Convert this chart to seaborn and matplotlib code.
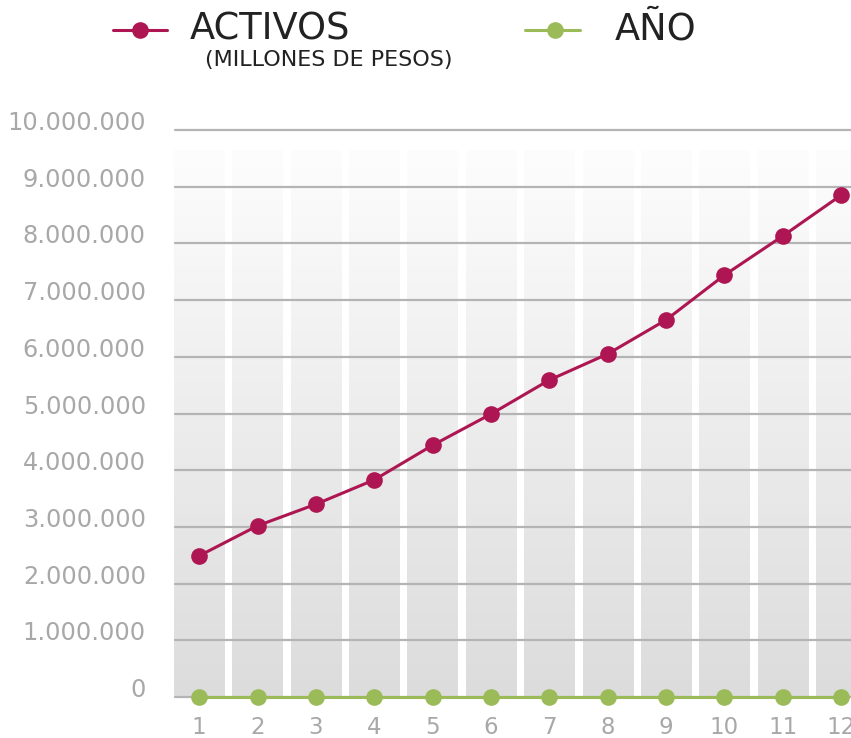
import numpy as np
import pandas as pd
import matplotlib
matplotlib.use("Agg")
import matplotlib.pyplot as plt
from matplotlib.lines import Line2D
import seaborn as sns

# Data
years = [1, 2, 3, 4, 5, 6, 7, 8, 9, 10, 11, 12]
activos = [2490000, 3020000, 3400000, 3830000, 4440000, 4990000,
           5590000, 6050000, 6650000, 7440000, 8130000, 8850000]
anio = [0, 0, 0, 0, 0, 0, 0, 0, 0, 0, 0, 0]
y_ticks = [0, 1000000, 2000000, 3000000, 4000000, 5000000,
           6000000, 7000000, 8000000, 9000000, 10000000]
y_tick_labels = ["0", "1.000.000", "2.000.000", "3.000.000", "4.000.000",
                 "5.000.000", "6.000.000", "7.000.000", "8.000.000",
                 "9.000.000", "10.000.000"]
legend_labels = ["ACTIVOS", "AÑO"]
legend_sub = "(MILLONES DE PESOS)"

RED = "#ad1652"
GREEN = "#9bbb59"
GRAY_TXT = "#a8a8a8"

sns.set_theme(style="white")
plt.rcParams["font.family"] = ["DejaVu Sans"]

fig = plt.figure(figsize=(8.51, 7.38), dpi=100)
ax = fig.add_axes([175/851, (738-697)/738, 1 - 175/851, (697-130)/738])

# Background gradient columns
col_top = 9650000
bars = ax.bar(years, [col_top]*len(years), width=0.86, color="none",
              edgecolor="none", zorder=0.5)
grad = np.linspace(1.0, 0.0, 256).reshape(-1, 1)
cmap = matplotlib.colors.LinearSegmentedColormap.from_list(
    "g", ["#dcdcdc", "#fdfdfd"])
for b in bars:
    im = ax.imshow(grad, cmap=cmap, vmin=0, vmax=1, aspect="auto",
                   extent=(b.get_x(), b.get_x() + b.get_width(), 0, col_top),
                   origin="upper", zorder=0.5, interpolation="bilinear")
    im.set_clip_path(b)

df = pd.DataFrame({"x": years * 2,
                   "y": activos + anio,
                   "serie": [legend_labels[0]] * len(years) + [legend_labels[1]] * len(years)})
sns.lineplot(data=df, x="x", y="y", hue="serie",
             palette={legend_labels[0]: RED, legend_labels[1]: GREEN},
             marker="o", markersize=12, markeredgewidth=0, linewidth=2.2,
             legend=False, ax=ax, zorder=4, clip_on=False)

ax.set_xlim(0.586, 12.17)
ax.set_ylim(0, 10000000)
ax.set_yticks(y_ticks)
ax.set_yticklabels(y_tick_labels)
ax.set_xticks(years)
ax.set_xticklabels([str(y) for y in years])
ax.set_xlabel("")
ax.set_ylabel("")
for s in ax.spines.values():
    s.set_visible(False)
ax.set_axisbelow(False)
ax.yaxis.grid(True, color="#b4b4b4", linewidth=1.6, zorder=1)
ax.xaxis.grid(False)
for gl in ax.get_ygridlines():
    gl.set_clip_on(False)
ax.tick_params(axis="y", length=0, pad=21, labelsize=17.3, labelcolor=GRAY_TXT)
ax.tick_params(axis="x", length=0, pad=14, labelsize=16.5, labelcolor=GRAY_TXT)
for t in ax.get_yticklabels():
    t.set_verticalalignment("baseline")
ax.patch.set_alpha(0)

# Legend drawn manually
ly = 1 - 30/738
fig.add_artist(Line2D([113/851, 167/851], [ly, ly], color=RED, linewidth=2.2))
fig.add_artist(Line2D([140/851], [ly], marker="o", color=RED, markersize=12,
                      markeredgewidth=0))
fig.text(190/851, 1 - 40/738, legend_labels[0], fontsize=26.5, color="#222222",
         va="baseline", ha="left")
fig.text(205/851, 1 - 66/738, legend_sub, fontsize=16, color="#222222",
         va="baseline", ha="left")
fig.add_artist(Line2D([525/851, 580/851], [ly, ly], color=GREEN, linewidth=2.2))
fig.add_artist(Line2D([555/851], [ly], marker="o", color=GREEN, markersize=12,
                      markeredgewidth=0))
fig.text(615/851, 1 - 40/738, legend_labels[1], fontsize=26.5, color="#222222",
         va="baseline", ha="left")

fig.savefig("out.png", dpi=100, facecolor="white")
